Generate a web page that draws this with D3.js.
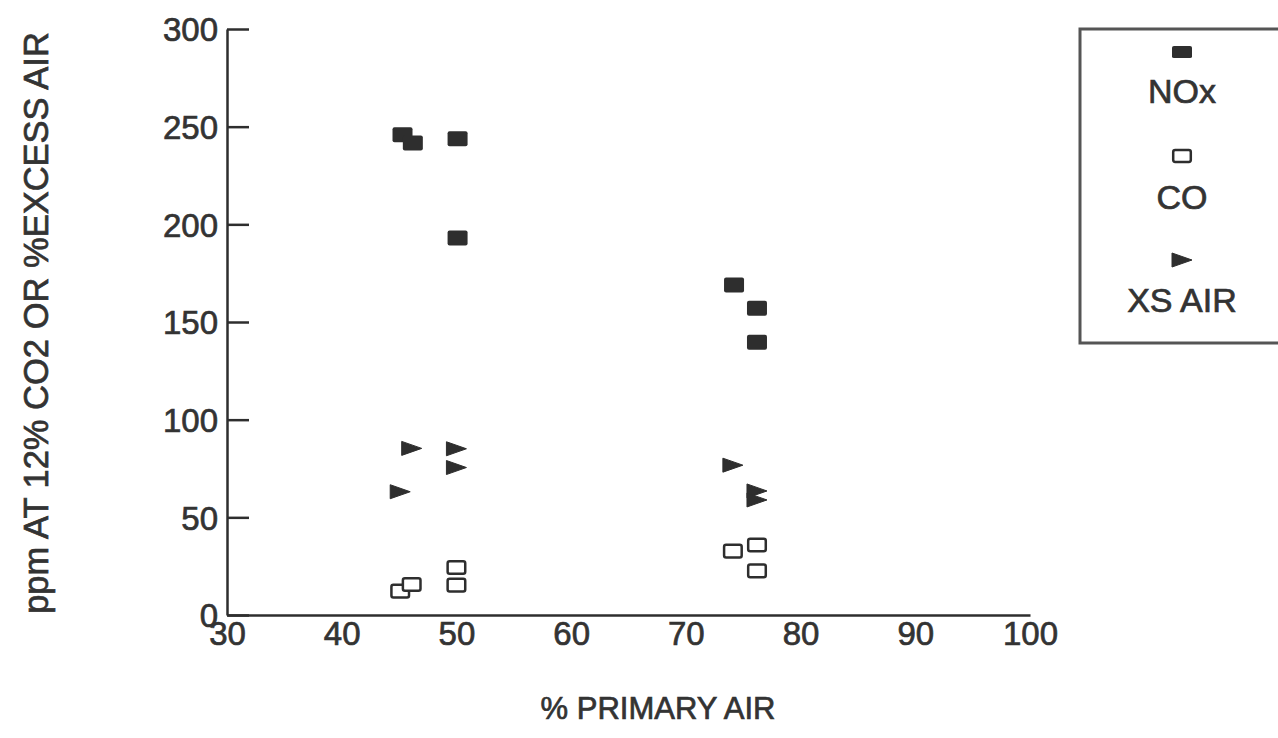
<!DOCTYPE html>
<html>
<head>
<meta charset="utf-8">
<script src="https://cdn.jsdelivr.net/npm/d3@7"></script>
<style>
  html, body { margin: 0; padding: 0; background: #fff; }
  svg { display: block; }
  text {
    font-family: "Liberation Sans", Arial, Helvetica, sans-serif;
    fill: #333;
    stroke: #333;
    stroke-width: 0.7px;
  }
</style>
</head>
<body>
<svg id="chart" width="1278" height="738"></svg>
<script>
// Measured emissions against percentage of primary air
const noxX = [45.3, 46.2, 50.1, 50.1, 74.2, 76.2, 76.2];
const noxY = [245.9, 241.6, 243.8, 193.0, 169.0, 157.1, 139.6];

const coX = [45.1, 46.1, 50.0, 50.0, 74.1, 76.2, 76.2];
const coY = [12.2, 15.6, 24.3, 15.3, 32.7, 35.8, 22.6];

const xsX = [46.1, 50.0, 50.0, 45.1, 74.1, 76.2, 76.2];
const xsY = [85.3, 85.1, 75.5, 63.1, 76.7, 63.5, 58.9];

const xTicks = [30, 40, 50, 60, 70, 80, 90, 100];
const yTicks = [0, 50, 100, 150, 200, 250, 300];

const legendLabels = ["NOx", "CO", "XS AIR"];

const ink = "#2e2e2e";
const svg = d3.select("#chart");

const x = d3.scaleLinear().domain([30, 100]).range([227, 1030]);
const y = d3.scaleLinear().domain([0, 300]).range([615, 29]);

// Y axis: ticks pointing into the plot
const yAxis = svg.append("g")
  .attr("transform", `translate(${x(30)},0)`)
  .call(d3.axisLeft(y).tickValues(yTicks).tickSizeInner(-22).tickSizeOuter(0).tickPadding(9));
yAxis.select(".domain").attr("stroke", ink).attr("stroke-width", 2.5);
yAxis.selectAll(".tick line").attr("stroke", ink).attr("stroke-width", 2.5);
yAxis.selectAll(".tick text")
  .attr("font-size", 33).attr("fill", "#333")
  .attr("font-family", '"Liberation Sans", Arial, sans-serif')
  .attr("dy", "0.36em");

// X axis: plain line with labels underneath
const xAxis = svg.append("g")
  .attr("transform", `translate(0,${y(0)})`)
  .call(d3.axisBottom(x).tickValues(xTicks).tickSize(0).tickPadding(7));
xAxis.select(".domain").attr("stroke", ink).attr("stroke-width", 2.5);
xAxis.selectAll(".tick text")
  .attr("font-size", 33).attr("fill", "#333")
  .attr("font-family", '"Liberation Sans", Arial, sans-serif');

// Axis titles
svg.append("text")
  .attr("transform", `translate(48,${(y(0) + y(300)) / 2 + 1}) rotate(-90)`)
  .attr("text-anchor", "middle")
  .attr("font-size", 34.5)
  .text("ppm AT 12% CO2 OR %EXCESS AIR");

svg.append("text")
  .attr("x", 658).attr("y", 719)
  .attr("text-anchor", "middle")
  .attr("font-size", 31)
  .text("% PRIMARY AIR");

// Marker shapes
const trianglePath = "M-10,-7 L10,0 L-10,7 Z";

const drawNox = (g) => g.append("rect")
  .attr("x", -10).attr("y", -7.5).attr("width", 20).attr("height", 15)
  .attr("rx", 2).attr("fill", ink);
const drawCo = (g) => g.append("rect")
  .attr("x", -8.8).attr("y", -6.3).attr("width", 17.6).attr("height", 12.6)
  .attr("rx", 2).attr("fill", "#fff").attr("stroke", ink).attr("stroke-width", 2.5);
const drawXs = (g) => g.append("path")
  .attr("d", trianglePath).attr("fill", ink)
  .attr("stroke", ink).attr("stroke-width", 1).attr("stroke-linejoin", "round");

function plotSeries(xs, ys, draw) {
  const pts = xs.map((v, i) => ({ x: v, y: ys[i] }));
  svg.append("g").selectAll("g")
    .data(pts).join("g")
    .attr("transform", d => `translate(${x(d.x)},${y(d.y)})`)
    .each(function () { draw(d3.select(this)); });
}

plotSeries(xsX, xsY, drawXs);
plotSeries(coX, coY, drawCo);
plotSeries(noxX, noxY, drawNox);

// Legend box (open on the right edge)
const legend = svg.append("g");
legend.append("rect")
  .attr("x", 1080).attr("y", 29).attr("width", 240).attr("height", 314)
  .attr("fill", "#fff").attr("stroke", "#555").attr("stroke-width", 3);

const legendItems = [
  { label: legendLabels[0], draw: drawNox, my: 52, ty: 103, sc: "1,0.8" },
  { label: legendLabels[1], draw: drawCo, my: 156, ty: 209, sc: "1,0.95" },
  { label: legendLabels[2], draw: drawXs, my: 260, ty: 312, sc: "1,1" }
];
legendItems.forEach(it => {
  const m = legend.append("g").attr("transform", `translate(1182,${it.my}) scale(${it.sc})`);
  it.draw(m);
  legend.append("text")
    .attr("x", 1182).attr("y", it.ty)
    .attr("text-anchor", "middle")
    .attr("font-size", 34)
    .text(it.label);
});
</script>
</body>
</html>
